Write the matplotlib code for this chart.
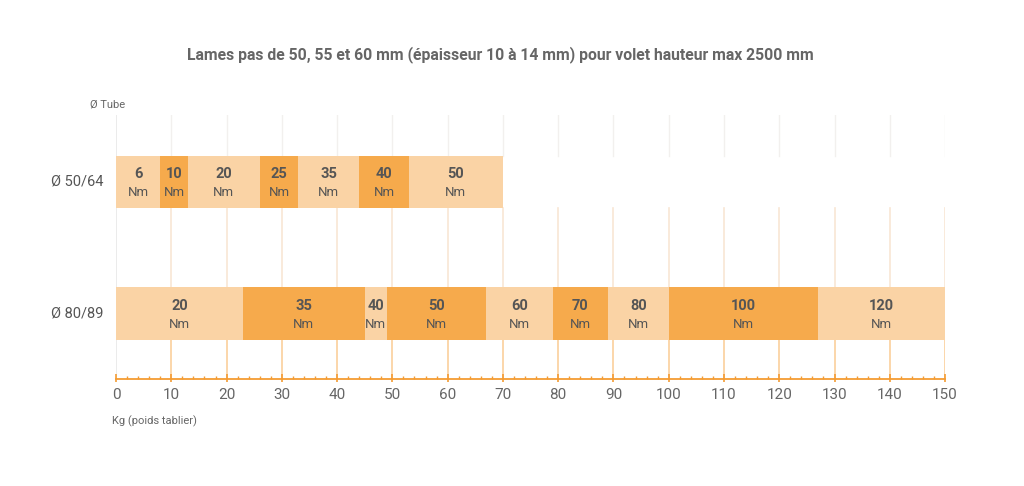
import matplotlib.pyplot as plt
from matplotlib.collections import LineCollection

plt.rcParams['font.family'] = ['Roboto', 'DejaVu Sans']

LIGHT = "#fad3a5"
DARK = "#f6aa4c"
TXT = "#555555"

tubes = ["Ø 80/89", "Ø 50/64"]

# segment limits in kg and torque of each segment
edges_5064 = [0, 8, 13, 26, 33, 44, 53, 70]
torque_5064 = [6, 10, 20, 25, 35, 40, 50]

edges_8089 = [0, 23, 45, 49, 67, 79, 89, 100, 127, 150]
torque_8089 = [20, 35, 40, 50, 60, 70, 80, 100, 120]

major_ticks = list(range(0, 151, 10))
minor_ticks = list(range(0, 151, 2))

fig = plt.figure(figsize=(10.24, 4.86), dpi=100)
ax = fig.add_axes([0.1133, 0.2202, 0.8096, 0.5432])
ax.set_xlim(0, 150)
ax.set_ylim(-0.5, 1.51)
H = 0.4

# vertical grid lines, fading toward the top
for x in major_ticks[1:]:
    ax.plot([x, x], [1 + H / 2, 1.51], color="#f2f0ee", lw=1, zorder=0)
    ax.plot([x, x], [H / 2, 1 - H / 2], color="#f8e6d4", lw=1.2, zorder=0)
    ax.plot([x, x], [-0.5, -H / 2], color="#fbcf9c", lw=1.2, zorder=0)
ax.plot([0, 0], [-0.5, 1.51], color="#e8e8e8", lw=1.2, zorder=0)


def draw_row(y, edges, torques):
    for i, t in enumerate(torques):
        left, right = edges[i], edges[i + 1]
        col = DARK if i % 2 == 1 else LIGHT
        ax.barh(y, right - left, left=left, height=H, color=col,
                edgecolor="none", zorder=2)
        cx = (left + right) / 2
        ax.text(cx, y + 0.058, str(t), ha="center", va="center",
                fontsize=10.5, fontweight="bold", color=TXT, zorder=3)
        ax.text(cx, y - 0.082, "Nm", ha="center", va="center",
                fontsize=9.5, color=TXT, zorder=3)


draw_row(1, edges_5064, torque_5064)
draw_row(0, edges_8089, torque_8089)

# axis line and ticks
for s in ax.spines.values():
    s.set_visible(False)
ax.set_yticks([])
ax.set_xticks([])
ax.axhline(-0.5, color="#f49c33", lw=1.3, zorder=4, clip_on=False)
trans = ax.get_xaxis_transform()
minor = [[(x, 0), (x, 0.012)] for x in minor_ticks if x % 10 != 0]
major = [[(x, -0.01), (x, 0.02)] for x in major_ticks]
ax.add_collection(LineCollection(minor, colors="#f49c33", lw=1, transform=trans, clip_on=False))
ax.add_collection(LineCollection(major, colors="#f49c33", lw=1.2, transform=trans, clip_on=False))

for x in major_ticks:
    ax.text(x, -0.035, str(x), transform=trans, ha="center", va="top",
            fontsize=11, color="#666666")

for i, name in enumerate(tubes):
    ax.text(-2.2, i, name, ha="right", va="center", fontsize=10.5, color="#555555")

fig.text(112 / 1024, 1 - 421 / 486, "Kg (poids tablier)", ha="left", va="center",
         fontsize=8, color="#666666")
fig.text(90 / 1024, 1 - 104 / 486, "Ø Tube", ha="left", va="center",
         fontsize=8, color="#666666")
fig.text(500 / 1024, 1 - 55 / 486,
         "Lames pas de 50, 55 et 60 mm (épaisseur 10 à 14 mm) pour volet hauteur max 2500 mm",
         ha="center", va="center", fontsize=11.3, fontweight="bold", color="#666666")

fig.savefig("out.png", dpi=100, facecolor="white")
